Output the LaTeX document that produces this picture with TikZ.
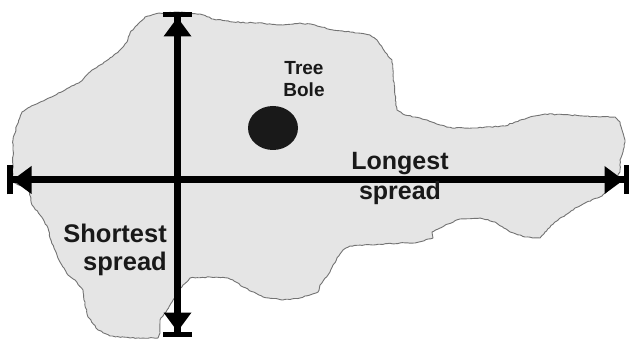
\documentclass[tikz,border=0pt]{standalone}
\usepackage{fontspec}
\setmainfont{Liberation Sans}
\usetikzlibrary{arrows.meta,positioning,shapes.geometric,decorations.pathmorphing}

\begin{document}
\begin{tikzpicture}[x=1pt, y=-1pt, every node/.style={font=\bfseries, text=black!90,
      inner sep=0pt, align=center},
      crown/.style={fill=black!10, draw=black!55, line width=0.9pt, line join=round,
      decorate, decoration={random steps, segment length=2.5pt, amplitude=0.5pt}},
      spread/.style={line width=7pt,
      {Bar[width=29pt,line width=5.5pt] Triangle[length=19pt,width=28pt,line width=0pt]}-{Triangle[length=19pt,width=28pt,line width=0pt] Bar[width=29pt,line width=5.5pt]}}]
    \useasboundingbox (0,0) rectangle (629,339);
    \pgfmathsetseed{7}
    % crown outline
    \draw[crown] (145,17) -- (155,14) -- (175,12) -- (200,14) -- (213,19) -- (233,22)
      -- (257,23) -- (283,25) -- (300,23) -- (315,25) -- (333,30) -- (350,32) -- (370,35)
      -- (377,40) -- (385,52) -- (392,60) -- (393,75) -- (395,95) -- (397,110) -- (405,115)
      -- (420,118) -- (440,125) -- (452,128) -- (475,128) -- (505,126) -- (515,122)
      -- (530,117) -- (545,114) -- (570,115) -- (600,117) -- (615,117) -- (620,122)
      -- (622,130) -- (625,140) -- (623,152) -- (620,160) -- (620,172) -- (612,186)
      -- (602,196) -- (585,203) -- (575,208) -- (570,212) -- (555,222) -- (545,232)
      -- (540,238) -- (525,237) -- (510,232) -- (495,222) -- (480,218) -- (460,219)
      -- (448,224) -- (440,228) -- (432,232) -- (433,238) -- (415,243) -- (400,243)
      -- (350,246) -- (343,250) -- (340,254) -- (333,265) -- (328,275) -- (320,285)
      -- (318,292) -- (310,295) -- (300,298) -- (283,300) -- (263,297) -- (243,287)
      -- (233,280) -- (228,278) -- (210,277) -- (190,278) -- (183,285) -- (178,291)
      -- (172,302) -- (167,310) -- (160,320) -- (160,333) -- (158,338) -- (130,338)
      -- (110,336) -- (98,330) -- (88,317) -- (84,300) -- (83,290) -- (75,280)
      -- (68,275) -- (60,262) -- (55,250) -- (50,238) -- (48,228) -- (40,215) -- (32,205)
      -- (29,190) -- (22,186) -- (12,182) -- (13,165) -- (13,150) -- (13,140) -- (17,125)
      -- (22,112) -- (30,107) -- (45,100) -- (65,90) -- (80,82) -- (90,72) -- (100,65)
      -- (112,57) -- (120,50) -- (127,42) -- (130,33) -- (135,27) -- (140,22) -- cycle;
    \node[ellipse, fill=black!90, minimum width=50pt, minimum height=44pt] (bole) at (273,128) {};
    \node[font=\fontsize{19}{22}\selectfont\bfseries] (tb) at (304,79) {Tree\\Bole};
    \coordinate (top) at (177.5,12); \coordinate (bot) at (177.5,337);
    \coordinate (lft) at (7,180); \coordinate (rgt) at (629,180);
    \draw[spread] (top) -- (bot);
    \draw[spread] (lft) -- (rgt);
    \node[font=\fontsize{25}{30}\selectfont\bfseries] (ls) at (400,178) {Longest\\spread};
    \node[font=\fontsize{25.5}{28}\selectfont\bfseries, align=right, anchor=east] (ss)
      at (167,249.5) {Shortest\\spread};
  \end{tikzpicture}
\end{document}
